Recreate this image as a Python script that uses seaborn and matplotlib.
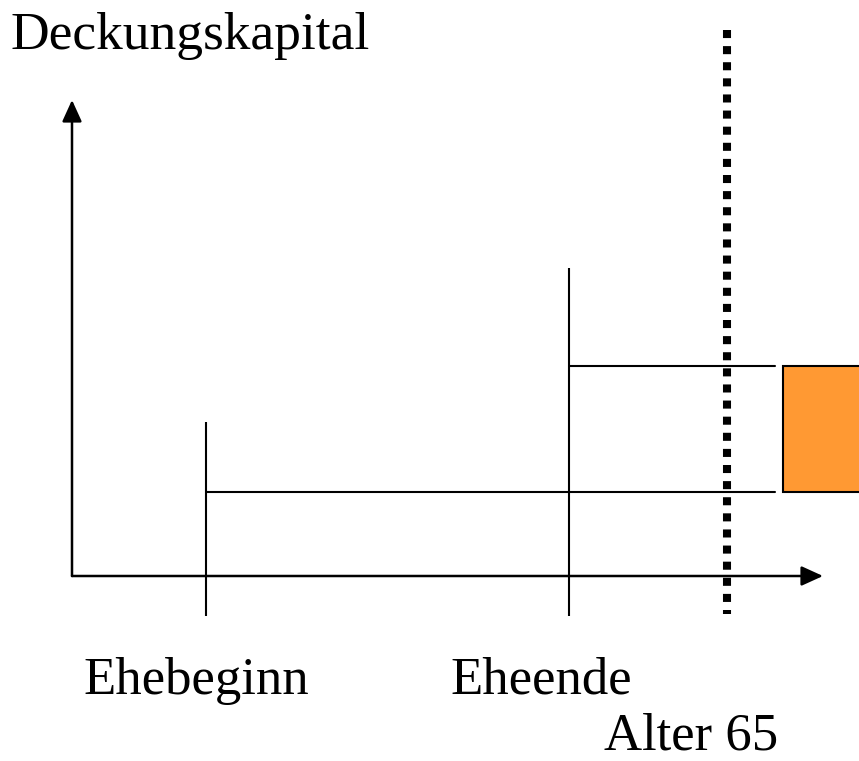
import matplotlib
matplotlib.use("Agg")
import matplotlib.pyplot as plt
import seaborn as sns
import pandas as pd
from matplotlib.patches import Rectangle

# schematic coordinates (canvas units, y grows downward)
axis_origin = (72, 576)
y_axis_top = 100
x_axis_end = 823

events = ["Ehebeginn", "Eheende"]
event_x = [206, 569]
event_top = [422, 268]
event_bottom = [616, 616]

level_start = [206, 569]
level_end = [775, 775]
level_y = [492, 366]

retire_label = "Alter 65"
retire_x = 727
retire_span = [30, 614]

box_x = [783, 870]
box_y = [366, 492]

y_title = "Deckungskapital"

sns.set_theme(style="white")
plt.rcParams["font.family"] = ["Liberation Serif", "DejaVu Serif"]

fig = plt.figure(figsize=(8.59, 7.61), dpi=100)
ax = fig.add_axes([0, 0, 1, 1])

# axes arrows
ox, oy = axis_origin
arrow = dict(arrowstyle="-|>,head_length=1.1,head_width=0.5",
             lw=1.8, color="black", shrinkA=0, shrinkB=0)
ax.annotate("", xy=(ox, y_axis_top), xytext=(ox, oy), arrowprops=arrow)
ax.annotate("", xy=(x_axis_end, oy), xytext=(ox, oy), arrowprops=arrow)

# event markers
for x, top, bot in zip(event_x, event_top, event_bottom):
    ax.plot([x, x], [top, bot], color="black", lw=1.5, solid_capstyle="butt")

# capital levels
levels = pd.DataFrame({
    "x": level_start + level_end,
    "y": level_y + level_y,
    "seg": [0, 1, 0, 1],
})
sns.lineplot(data=levels, x="x", y="y", units="seg", estimator=None,
             color="black", lw=1.5, ax=ax, sort=False)

# retirement age dotted line
ax.plot([retire_x, retire_x], retire_span, color="black", lw=5.8,
        linestyle=(0, (1, 1)), dash_capstyle="butt")

# difference box
ax.add_patch(Rectangle((box_x[0], box_y[0]), box_x[1] - box_x[0],
                       box_y[1] - box_y[0], facecolor="#FF9933",
                       edgecolor="black", lw=1.5))

ax.set_xlim(0, 859)
ax.set_ylim(761, 0)
ax.axis("off")

# labels
ax.text(10, 49, y_title, fontsize=38.5, va="baseline", ha="left", color="black")
ax.text(83, 694, events[0], fontsize=38, va="baseline", ha="left", color="black")
ax.text(450, 694, events[1], fontsize=38, va="baseline", ha="left", color="black")
ax.text(604, 749, retire_label, fontsize=38, va="baseline", ha="left", color="black")

fig.savefig("out.png", dpi=100)
